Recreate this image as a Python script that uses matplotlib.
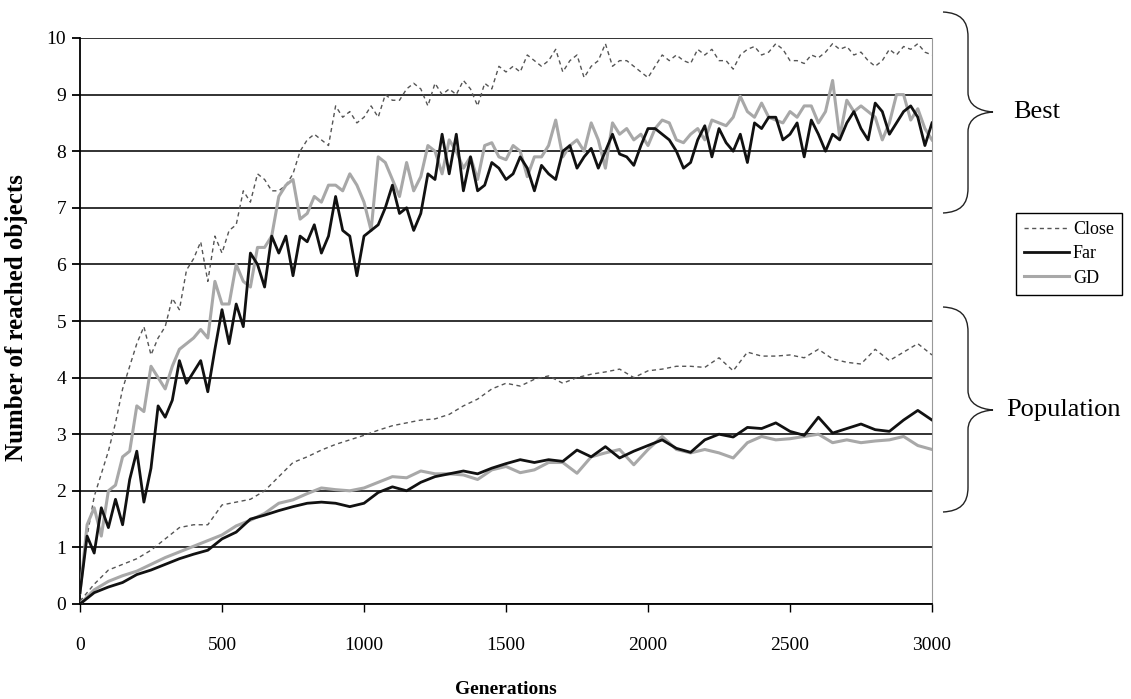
import numpy as np
import matplotlib
matplotlib.use("Agg")
import matplotlib.pyplot as plt
from matplotlib.path import Path
from matplotlib.patches import PathPatch

plt.rcParams['font.family'] = ['Liberation Serif', 'DejaVu Serif']

# sampling grids (generations)
gen_best = np.arange(0, 3001, 25)
gen_pop = np.arange(0, 3001, 50)

# best individual, every 25 generations
close_best = [
    0.2, 1.2, 1.9, 2.3, 2.7, 3.2, 3.8, 4.2, 4.6, 4.9,
    4.4, 4.7, 4.9, 5.4, 5.2, 5.9, 6.1, 6.4, 5.7, 6.5,
    6.2, 6.6, 6.7, 7.3, 7.1, 7.6, 7.5, 7.3, 7.3, 7.4,
    7.6, 8.0, 8.2, 8.3, 8.2, 8.1, 8.8, 8.6, 8.7, 8.5,
    8.6,
    8.8, 8.6, 9.0, 8.9, 8.9, 9.1, 9.2, 9.1, 8.8, 9.2,
    9.0, 9.1, 9.0, 9.25, 9.1, 8.8, 9.2, 9.1, 9.5, 9.4,
    9.5, 9.4, 9.7, 9.6, 9.5, 9.6, 9.8, 9.4, 9.6, 9.7,
    9.3, 9.5, 9.6, 9.9, 9.5, 9.6, 9.6, 9.5, 9.4, 9.3,
    9.5, 9.7, 9.6, 9.7, 9.6, 9.55, 9.8, 9.7, 9.8, 9.6,
    9.6, 9.45, 9.7, 9.8, 9.85, 9.7, 9.75, 9.9, 9.8, 9.6,
    9.6, 9.55, 9.7, 9.65, 9.75, 9.9, 9.8, 9.85, 9.7, 9.75,
    9.6, 9.5, 9.6, 9.8, 9.7, 9.85, 9.8, 9.9, 9.75, 9.7,
]
far_best = [
    0.2, 1.2, 0.9, 1.7, 1.35, 1.85, 1.4, 2.2, 2.7, 1.8,
    2.4, 3.5, 3.3, 3.6, 4.3, 3.9, 4.1, 4.3, 3.75, 4.5,
    5.2, 4.6, 5.3, 4.9, 6.2, 6.0, 5.6, 6.5, 6.2, 6.5,
    5.8, 6.5, 6.4, 6.7, 6.2, 6.5, 7.2, 6.6, 6.5, 5.8,
    6.5,
    6.6, 6.7, 7.0, 7.4, 6.9, 7.0, 6.6, 6.9, 7.6, 7.5,
    8.3, 7.6, 8.3, 7.3, 7.9, 7.3, 7.4, 7.8, 7.7, 7.5,
    7.6, 7.9, 7.7, 7.3, 7.75, 7.6, 7.5, 8.0, 8.1, 7.7,
    7.9, 8.05, 7.7, 8.0, 8.3, 7.95, 7.9, 7.75, 8.1, 8.4,
    8.4, 8.3, 8.2, 8.0, 7.7, 7.8, 8.2, 8.45, 7.9, 8.4,
    8.15, 8.0, 8.3, 7.8, 8.5, 8.4, 8.6, 8.6, 8.2, 8.3,
    8.5, 7.9, 8.55, 8.3, 8.0, 8.3, 8.2, 8.5, 8.7, 8.4,
    8.2, 8.85, 8.7, 8.3, 8.5, 8.7, 8.8, 8.6, 8.1, 8.5,
]
gd_best = [
    0.2, 1.4, 1.7, 1.2, 2.0, 2.1, 2.6, 2.7, 3.5, 3.4,
    4.2, 4.0, 3.8, 4.2, 4.5, 4.6, 4.7, 4.85, 4.7, 5.7,
    5.3, 5.3, 6.0, 5.7, 5.6, 6.3, 6.3, 6.5, 7.2, 7.4,
    7.5, 6.8, 6.9, 7.2, 7.1, 7.4, 7.4, 7.3, 7.6, 7.4,
    7.1,
    6.6, 7.9, 7.8, 7.5, 7.2, 7.8, 7.3, 7.55, 8.1, 8.0,
    7.6, 8.2, 8.0, 7.7, 7.9, 7.5, 8.1, 8.15, 7.9, 7.85,
    8.1, 8.0, 7.55, 7.9, 7.9, 8.1, 8.55, 7.9, 8.1, 8.2,
    8.0, 8.5, 8.2, 7.7, 8.5, 8.3, 8.4, 8.2, 8.3, 8.1,
    8.4, 8.55, 8.5, 8.2, 8.15, 8.3, 8.4, 8.2, 8.55, 8.5,
    8.45, 8.6, 8.97, 8.7, 8.6, 8.85, 8.6, 8.55, 8.5, 8.7,
    8.6, 8.8, 8.8, 8.5, 8.7, 9.25, 8.25, 8.9, 8.7, 8.8,
    8.7, 8.6, 8.2, 8.5, 9.0, 9.0, 8.55, 8.75, 8.4, 8.2,
]

# population average, read every 50 generations
close_pop = [
    0.05, 0.35, 0.6, 0.7, 0.8, 0.95, 1.15, 1.35, 1.4, 1.4,
    1.75, 1.8, 1.85, 2.0, 2.25, 2.5, 2.6, 2.72, 2.82, 2.9,
    2.98, 3.07, 3.15, 3.2, 3.25, 3.27, 3.35, 3.5, 3.62, 3.8,
    3.9, 3.85, 3.97, 4.03, 3.9, 4.0, 4.06, 4.1, 4.15, 4.0,
    4.12, 4.15, 4.2, 4.2, 4.18, 4.35, 4.12, 4.45, 4.38, 4.38,
    4.4, 4.35, 4.5, 4.33, 4.27, 4.24, 4.5, 4.3, 4.45, 4.6,
    4.4,
]
far_pop = [
    0.0, 0.2, 0.3, 0.38, 0.52, 0.6, 0.7, 0.8, 0.88, 0.95,
    1.15, 1.27, 1.5, 1.57, 1.65, 1.72, 1.78, 1.8, 1.78, 1.72,
    1.78, 1.97, 2.07, 2.0, 2.15, 2.25, 2.3, 2.35, 2.3, 2.4,
    2.48, 2.55, 2.5, 2.55, 2.52, 2.72, 2.6, 2.78, 2.58, 2.7,
    2.8, 2.9, 2.75, 2.68, 2.9, 3.0, 2.95, 3.12, 3.1, 3.2,
    3.05, 2.98, 3.3, 3.02, 3.1, 3.18, 3.08, 3.05, 3.25, 3.42,
    3.25,
]
gd_pop = [
    0.0, 0.25, 0.4, 0.5, 0.58, 0.7, 0.82, 0.92, 1.02, 1.12,
    1.22, 1.38, 1.48, 1.6, 1.78, 1.84, 1.95, 2.05, 2.02, 2.0,
    2.05, 2.15, 2.25, 2.23, 2.35, 2.3, 2.3, 2.28, 2.2, 2.37,
    2.43, 2.32, 2.37, 2.5, 2.5, 2.31, 2.6, 2.67, 2.73, 2.46,
    2.73, 2.96, 2.73, 2.67, 2.73, 2.67, 2.58, 2.85, 2.96, 2.9,
    2.92, 2.96, 3.0, 2.85, 2.9, 2.85, 2.88, 2.9, 2.96, 2.8,
    2.73,
]

W, H = 1131, 699
fig = plt.figure(figsize=(W / 100, H / 100), dpi=100)
ax = fig.add_axes([80 / W, 1 - 604 / H, 852 / W, 566 / H])

close_style = dict(color='#555555', lw=1.0, ls=(0, (3, 2.5)))
far_style = dict(color='#111111', lw=2.0)
gd_style = dict(color='#a8a8a8', lw=2.2)

ax.plot(gen_pop, close_pop, **close_style, zorder=3)
ax.plot(gen_pop, gd_pop, **gd_style, zorder=3)
ax.plot(gen_pop, far_pop, **far_style, zorder=4)

l1, = ax.plot(gen_best, close_best, label='Close', **close_style, zorder=3)
l3, = ax.plot(gen_best, gd_best, label='GD', **gd_style, zorder=3)
l2, = ax.plot(gen_best, far_best, label='Far', **far_style, zorder=4)

ax.set_xlim(0, 3000)
ax.set_ylim(0, 10)
ax.set_xticks(range(0, 3001, 500))
ax.set_yticks(range(0, 11))
ax.yaxis.grid(True, color='#222222', lw=1.3)
ax.set_axisbelow(True)
ax.spines['top'].set_visible(False)
ax.spines['right'].set_color('#999999')
ax.spines['left'].set_linewidth(1.3)
ax.spines['bottom'].set_linewidth(1.3)
ax.tick_params(axis='x', direction='out', length=6, width=1, pad=18, labelsize=14)
ax.tick_params(axis='y', direction='out', length=6, width=1.3, pad=4, labelsize=14)

fig.text(506 / W, 1 - 689 / H, 'Generations', ha='center', va='center',
         fontsize=14, fontweight='bold')
fig.text(17 / W, 1 - 318 / H, 'Number of reached objects', ha='center', va='center',
         rotation=90, fontsize=18, fontweight='bold')

leg = fig.legend(handles=[l1, l2, l3], loc='upper left',
                 bbox_to_anchor=(1016 / W, 1 - 213 / H), fontsize=13,
                 handlelength=2.5, handletextpad=0.2, borderpad=0.45,
                 labelspacing=0.4, fancybox=False, framealpha=1, borderaxespad=0)
leg.get_frame().set_edgecolor('black')
leg.get_frame().set_linewidth(1.0)


def brace(ytop, ybot, ymid, xend=943, xsp=968, xtip=993):
    # curly brace in figure pixels (y measured from the top)
    pts = [
        (xend, ytop), (960, ytop + 1), (xsp, ytop + 8), (xsp, ytop + 25),
        (xsp, ymid - 20),
        (xsp, ymid - 6), (980, ymid - 1), (xtip, ymid),
        (980, ymid + 1), (xsp, ymid + 6), (xsp, ymid + 20),
        (xsp, ybot - 25),
        (xsp, ybot - 8), (960, ybot - 1), (xend, ybot),
    ]
    codes = [Path.MOVETO, Path.CURVE4, Path.CURVE4, Path.CURVE4,
             Path.LINETO,
             Path.CURVE4, Path.CURVE4, Path.CURVE4,
             Path.CURVE4, Path.CURVE4, Path.CURVE4,
             Path.LINETO,
             Path.CURVE4, Path.CURVE4, Path.CURVE4]
    verts = [(x / W, 1 - y / H) for x, y in pts]
    fig.patches.append(PathPatch(Path(verts, codes), transform=fig.transFigure,
                                 fill=False, lw=1.0, color='#222222'))


brace(12, 213, 112)
brace(307, 512, 410)
fig.text(1013 / W, 1 - 112 / H, 'Best', ha='left', va='center', fontsize=19)
fig.text(1006 / W, 1 - 410 / H, 'Population', ha='left', va='center', fontsize=19)

fig.savefig('out.png', dpi=100)
